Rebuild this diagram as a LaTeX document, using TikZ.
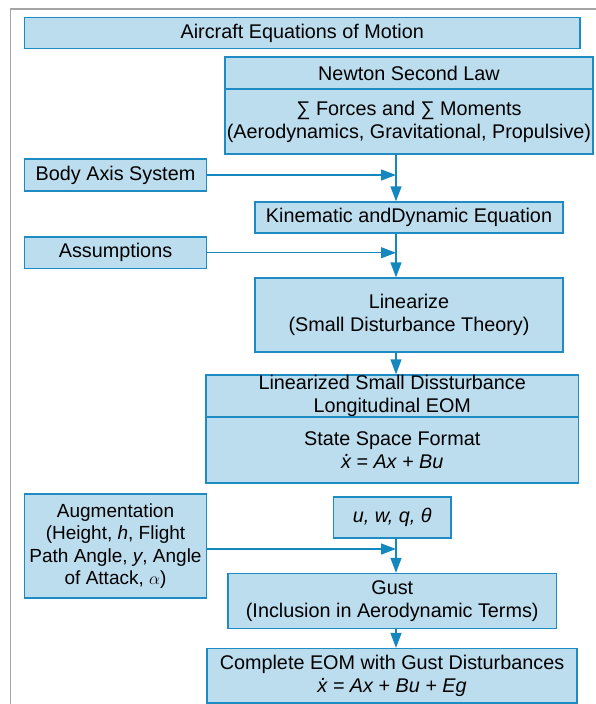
\documentclass[tikz,border=0pt]{standalone}
\usepackage{fontspec}
\setmainfont{Liberation Sans}
\usetikzlibrary{arrows.meta}

\definecolor{boxfill}{RGB}{188,221,238}
\definecolor{boxline}{RGB}{30,140,195}
\definecolor{flowline}{RGB}{20,135,190}
\definecolor{framegray}{RGB}{165,165,165}

% x with a dot above (time derivative)
\newcommand\xdt{\hbox{\ooalign{x\cr\hidewidth\kern0.14em\smash{\raisebox{0.6em}{.}}\hidewidth\cr}}}

\begin{document}
\begin{tikzpicture}[x=1pt,y=-1pt,
  box/.style={draw=boxline, fill=boxfill, line width=1.3pt, inner sep=0pt,
    align=center, font=\fontsize{19.8}{23}\selectfont},
  sz/.style 2 args={minimum width=#1pt, minimum height=#2pt},
  flow/.style={draw=flowline, line width=1.3pt},
  tip/.style={-{Triangle[length=15pt,width=11pt]}},
]
\useasboundingbox (0,0) rectangle (595,704);

% page frame
\draw[framegray, line width=1.3pt] (10.5,720) -- (10.5,9) -- (620,9);

% boxes
\node[box, sz={555.5}{31.5}] (title) at (302.25,33) {Aircraft Equations of Motion};
\node[box, sz={368}{32}] (newton) at (409,73) {Newton Second Law};
\node[box, sz={368}{65}] (forces) at (409,121.5) {∑ Forces and ∑ Moments\\(Aerodynamics, Gravitational, Propulsive)};
\node[box, sz={182}{32}] (body) at (115.5,175) {Body Axis System};
\node[box, sz={308}{31}] (kin) at (409,217.5) {Kinematic andDynamic Equation};
\node[box, sz={182}{31.5}] (assum) at (115.5,252.75) {Assumptions};
\node[box, sz={308}{74}] (lin) at (409,315) {Linearize\\(Small Disturbance Theory)};
\node[box, sz={372.5}{42}] (lsd) at (392.25,396) {Linearized Small Dissturbance\\Longitudinal EOM};
\node[box, sz={372.5}{66}] (ssf) at (392.25,450) {State Space Format\\\textit{\xdt\ = Ax + Bu}};
\node[box, sz={117.5}{41}] (uwq) at (392.25,517.5) {\textit{u, w, q, θ}};
\node[box, sz={182}{104}, font=\fontsize{19}{22.6}\selectfont] (aug) at (115.5,546) {Augmentation\\(Height, \textit{h}, Flight\\Path Angle, \textit{y}, Angle\\of Attack, $\alpha$)};
\node[box, sz={328.5}{55}] (gust) at (392.25,601) {Gust\\(Inclusion in Aerodynamic Terms)};
\node[box, sz={370}{54.5}] (eom) at (392,675.75) {Complete EOM with Gust Disturbances\\\textit{\xdt\ = Ax + Bu + Eg}};

% junctions on the main flow line
\coordinate (j1) at (396,175);
\coordinate (j2) at (396,252.75);
\coordinate (j3) at (396,549);

% main vertical flow
\draw[flow, tip] (forces.south -| j1) -- (kin.north -| j1);
\draw[flow, tip] (kin.south -| j1) -- (lin.north -| j1);
\draw[flow, tip] (lin.south -| j1) -- (lsd.north -| j1);
\draw[flow, tip] (uwq.south -| j1) -- (gust.north -| j1);
\draw[flow, tip] (gust.south -| j1) -- (eom.north -| j1);

% side inputs
\draw[flow, tip] (body.east) -- (j1);
\draw[flow, tip] (assum.east) -- (j2);
\draw[flow, tip] (aug.east |- j3) -- (j3);
\end{tikzpicture}
\end{document}
